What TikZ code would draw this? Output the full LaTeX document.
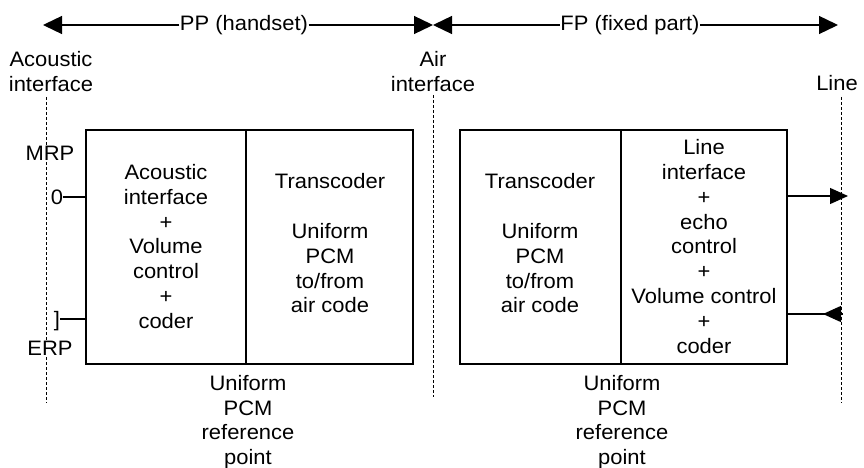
\documentclass[tikz,border=0pt]{standalone}
\usepackage{fontspec}
\setmainfont[FakeStretch=1.05]{Liberation Sans}
\usetikzlibrary{arrows.meta}
\begin{document}
\begin{tikzpicture}[x=1pt,y=-1pt,
  txt/.style={font=\fontsize{20.9}{24.8}\selectfont, align=center, inner sep=0pt},
  lbl/.style={txt, fill=white, inner xsep=0.5pt, inner ysep=1pt},
  box/.style={draw, line width=2pt, inner sep=0pt, minimum width=327pt, minimum height=234pt},
  divider/.style={line width=1.2pt},
  dashline/.style={line width=1pt, dash pattern=on 3pt off 2pt},
  conn/.style={line width=1.3pt},
  bigtip/.style={-{Triangle[length=19pt,width=18pt]}},
  smalltip/.style={-{Triangle[length=18pt,width=16pt]}},
]
\useasboundingbox (0,0) rectangle (864,468);

% dashed interface lines
\coordinate (acT) at (46,97);   \coordinate (acB) at (46,403);
\coordinate (aiT) at (433,95);  \coordinate (aiB) at (433,397);
\coordinate (liT) at (841,97);  \coordinate (liB) at (841,403);
\draw[dashline] (acT) -- (acB);
\draw[dashline] (aiT) -- (aiB);
\draw[dashline] (liT) -- (liB);

% boxes
\node[box] (lbox) at (249.5,247) {};
\node[box] (rbox) at (623.5,247) {};
\draw[divider] (246,130) -- (246,364);
\draw[divider] (621,130) -- (621,364);

% box texts
\node[txt] (lac) at (166,246.5) {Acoustic\\interface\\+\\Volume\\control\\+\\coder};
\node[txt] (ltr) at (330,243.5) {Transcoder\\[24.8pt]Uniform\\PCM\\to/from\\air code};
\node[txt] (rtr) at (540,243.5) {Transcoder\\[24.8pt]Uniform\\PCM\\to/from\\air code};
\node[txt] (rli) at (704,246.5) {Line\\interface\\+\\echo\\control\\+\\Volume control\\+\\coder};

% bottom texts
\node[txt] (lref) at (248,422) {Uniform\\PCM\\reference\\point};
\node[txt] (rref) at (622,422) {Uniform\\PCM\\reference\\point};

% top labels
\node[txt] (acl) at (51,71.5) {Acoustic\\interface};
\node[txt] (ail) at (433,71.5) {Air\\interface};
\node[txt] (lil) at (837,83) {Line};

% top arrows
\node[lbl] (pp) at (244,25) {PP (handset)};
\node[lbl] (fp) at (630,25) {FP (fixed part)};
\coordinate (ppL) at (43,25);  \coordinate (ppR) at (433,25);
\coordinate (fpL) at (433,25); \coordinate (fpR) at (838,25);
\draw[conn, bigtip] (pp.west) -- (ppL);
\draw[conn, bigtip] (pp.east) -- (ppR);
\draw[conn, bigtip] (fp.west) -- (fpL);
\draw[conn, bigtip] (fp.east) -- (fpR);

% MRP / ERP
\node[lbl] (mrp) at (50,153) {MRP};
\node[lbl] (erp) at (50,348) {ERP};
\node[txt] (zero) at (57,197) {0};
\node[txt] (brk) at (57,321) {]};
\draw[conn] (zero.east) -- (zero.east -| lbox.west);
\draw[conn] (brk.east |- 0,319) -- (lbox.west |- 0,319);

% line side arrows
\coordinate (outE) at (848,196);
\coordinate (inS) at (843,314);
\coordinate (inT) at (823,314);
\draw[conn, smalltip] (rbox.east |- outE) -- (outE);
\draw[conn] (rbox.east |- inS) -- (inS);
\draw[conn, smalltip] (inS) -- (inT);
\end{tikzpicture}
\end{document}
